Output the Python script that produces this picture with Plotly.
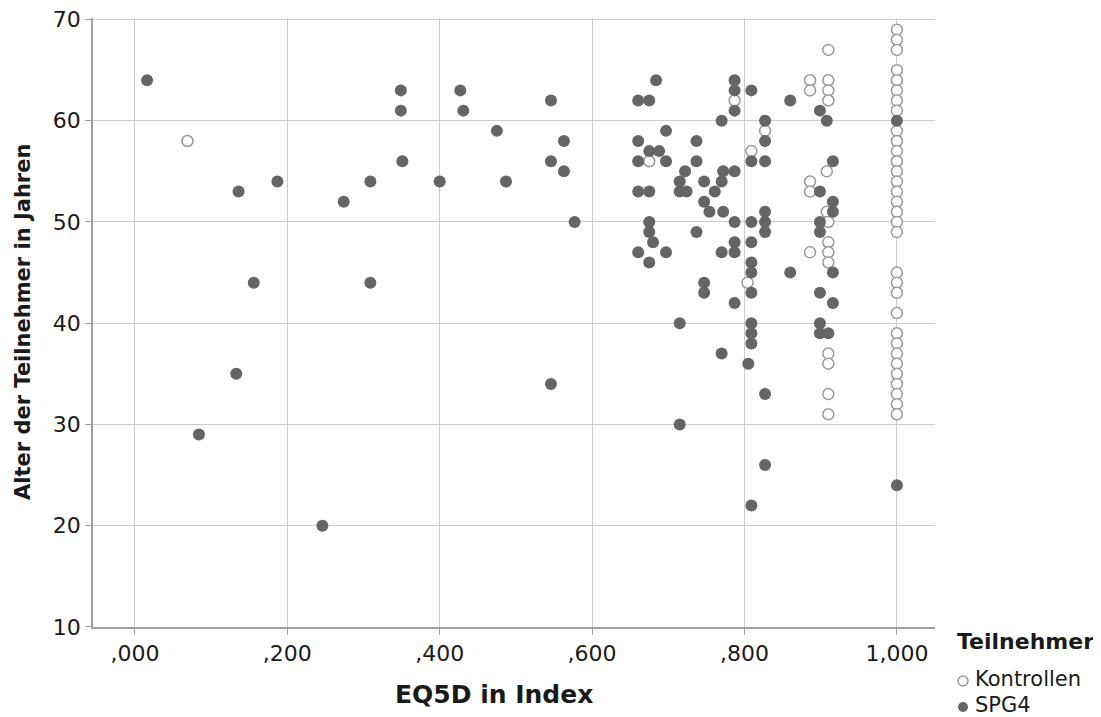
import plotly.graph_objects as go

# ---- data ----
kon_x = [0.069, 0.675, 0.787, 0.809, 0.804, 0.827,
         0.886, 0.886, 0.886, 0.886, 0.886,
         0.910, 0.910, 0.910, 0.910, 0.908, 0.908, 0.910, 0.910, 0.910, 0.910,
         0.910, 0.910, 0.910, 0.910,
         1.0, 1.0, 1.0, 1.0, 1.0, 1.0, 1.0, 1.0, 1.0, 1.0, 1.0, 1.0, 1.0, 1.0,
         1.0, 1.0, 1.0, 1.0, 1.0, 1.0, 1.0, 1.0, 1.0, 1.0, 1.0, 1.0, 1.0, 1.0,
         1.0, 1.0, 1.0, 1.0]
kon_y = [58, 56, 62, 57, 44, 59,
         64, 63, 54, 53, 47,
         67, 64, 63, 62, 55, 51, 50, 48, 47, 46,
         37, 36, 33, 31,
         69, 68, 67, 65, 64, 63, 62, 61, 59, 58, 57, 56, 55, 54,
         53, 52, 51, 50, 49, 45, 44, 43, 41, 39, 38, 37, 36, 35,
         34, 33, 32, 31]

spg_x = [0.016, 0.084, 0.136, 0.133, 0.156, 0.187, 0.246, 0.274, 0.309, 0.309,
         0.349, 0.349, 0.351, 0.400, 0.427, 0.431, 0.475, 0.487, 0.546, 0.546,
         0.546, 0.563, 0.563, 0.577,
         0.684, 0.787, 0.787, 0.809, 0.6605, 0.675, 0.860, 0.787, 0.770, 0.827,
         0.697, 0.6605, 0.737, 0.827, 0.675, 0.688, 0.6605, 0.697, 0.737, 0.809,
         0.827, 0.722, 0.772, 0.787, 0.715, 0.747, 0.770, 0.6605, 0.675, 0.715,
         0.724, 0.761, 0.747, 0.754, 0.772, 0.827, 0.827, 0.675, 0.787, 0.809,
         0.675, 0.827, 0.737, 0.680, 0.787, 0.809, 0.6605, 0.697, 0.770, 0.787,
         0.675, 0.809, 0.809, 0.860, 0.747, 0.747, 0.809, 0.787, 0.715, 0.809,
         0.809, 0.809, 0.770, 0.805, 0.827, 0.715, 0.827, 0.809,
         0.899, 0.908, 1.0, 0.916, 0.899, 0.916, 0.916, 0.899, 0.899, 0.916,
         0.899, 0.916, 0.899, 0.899, 0.910, 1.0]
spg_y = [64, 29, 53, 35, 44, 54, 20, 52, 54, 44,
         63, 61, 56, 54, 63, 61, 59, 54, 62, 56,
         34, 58, 55, 50,
         64, 64, 63, 63, 62, 62, 62, 61, 60, 60,
         59, 58, 58, 58, 57, 57, 56, 56, 56, 56,
         56, 55, 55, 55, 54, 54, 54, 53, 53, 53,
         53, 53, 52, 51, 51, 51, 50, 50, 50, 50,
         49, 49, 49, 48, 48, 48, 47, 47, 47, 47,
         46, 46, 45, 45, 44, 43, 43, 42, 40, 40,
         39, 38, 37, 36, 33, 30, 26, 22,
         61, 60, 60, 56, 53, 52, 51, 50, 49, 45,
         43, 42, 40, 39, 39, 24]

x_tickvals = [0.0, 0.2, 0.4, 0.6, 0.8, 1.0]
x_ticktext = [",000", ",200", ",400", ",600", ",800", "1,000"]
y_tickvals = [10, 20, 30, 40, 50, 60, 70]

x_title = "EQ5D in Index"
y_title = "Alter der Teilnehmer in Jahren"
legend_title = "Teilnehmer"
legend_names = ["Kontrollen", "SPG4"]

FILL = "#656565"
RING = "#9a9a9a"
GRID = "#cccccc"
TXT = "#1a1a1a"

# the page body adds an 8px offset; size the figure to the visible window
OFF = 8
FIG_W, FIG_H = 1101 - OFF, 717 - OFF
# plot-area geometry in screenshot pixels
L, R, T, B = 93, 935, 18, 627
W, H = R - L, B - T


def px_x(p):
    return (p - L) / W


def px_y(p):
    return (B - p) / H


fig = go.Figure()
fig.add_trace(go.Scatter(
    x=kon_x, y=kon_y, mode="markers", name=legend_names[0],
    marker=dict(size=11, color="white", line=dict(color=RING, width=1.5)),
))
fig.add_trace(go.Scatter(
    x=spg_x, y=spg_y, mode="markers", name=legend_names[1],
    marker=dict(size=12, color=FILL, line=dict(color=FILL, width=0)),
))

tickfont = dict(family="DejaVu Sans", size=22, color=TXT)

# legend drawn by hand so it does not push the margins
legend_rows = [(681, dict(color=RING, width=1.5), "white"),
               (707, dict(color=FILL, width=0), FILL)]
shapes = []
annotations = [
    dict(text=x_title, xref="paper", yref="paper",
         x=px_x(494), xanchor="center", y=px_y(694), yanchor="middle",
         showarrow=False,
         font=dict(family="DejaVu Sans", size=25, color=TXT, weight="bold")),
    dict(text=y_title, xref="paper", yref="paper", textangle=-90,
         x=px_x(23), xanchor="center", y=px_y(322), yanchor="middle",
         showarrow=False,
         font=dict(family="DejaVu Sans", size=21, color=TXT, weight="bold")),
    dict(text=legend_title, xref="paper", yref="paper",
         x=px_x(955), xanchor="left", y=px_y(641), yanchor="middle",
         showarrow=False,
         font=dict(family="DejaVu Sans", size=22, color=TXT, weight="bold")),
]
for (cy, line, fillc), name in zip(legend_rows, legend_names):
    shapes.append(dict(
        type="circle", xref="paper", yref="paper",
        xsizemode="pixel", ysizemode="pixel",
        xanchor=px_x(963), yanchor=px_y(cy),
        x0=-5, x1=5, y0=-5, y1=5,
        line=line, fillcolor=fillc, layer="above",
    ))
    annotations.append(dict(
        text=name, xref="paper", yref="paper",
        x=px_x(973), xanchor="left", y=px_y(cy - 2), yanchor="middle",
        showarrow=False,
        font=dict(family="DejaVu Sans", size=21, color=TXT),
    ))

fig.update_layout(
    width=FIG_W, height=FIG_H,
    margin=dict(l=L - OFF, r=1101 - R, t=T - OFF, b=717 - B),
    paper_bgcolor="white", plot_bgcolor="white",
    showlegend=False,
    xaxis=dict(
        range=[-0.055, 1.05], tickvals=x_tickvals, ticktext=x_ticktext,
        showgrid=True, gridcolor=GRID, gridwidth=1.2, zeroline=False,
        showline=True, linecolor="#a0a0a0", linewidth=1.5,
        ticks="outside", ticklen=6, tickcolor="#a0a0a0",
        tickfont=tickfont, automargin=False, ticklabeloverflow="allow",
    ),
    yaxis=dict(
        range=[9.99, 70.15], tickvals=y_tickvals,
        showgrid=True, gridcolor=GRID, gridwidth=1.2, zeroline=False,
        showline=True, linecolor="#a0a0a0", linewidth=1.5,
        ticks="outside", ticklen=6, tickcolor="#a0a0a0",
        tickfont=tickfont, automargin=False, ticklabeloverflow="allow",
    ),
    shapes=shapes,
    annotations=annotations,
)

fig.write_html("out.html")
